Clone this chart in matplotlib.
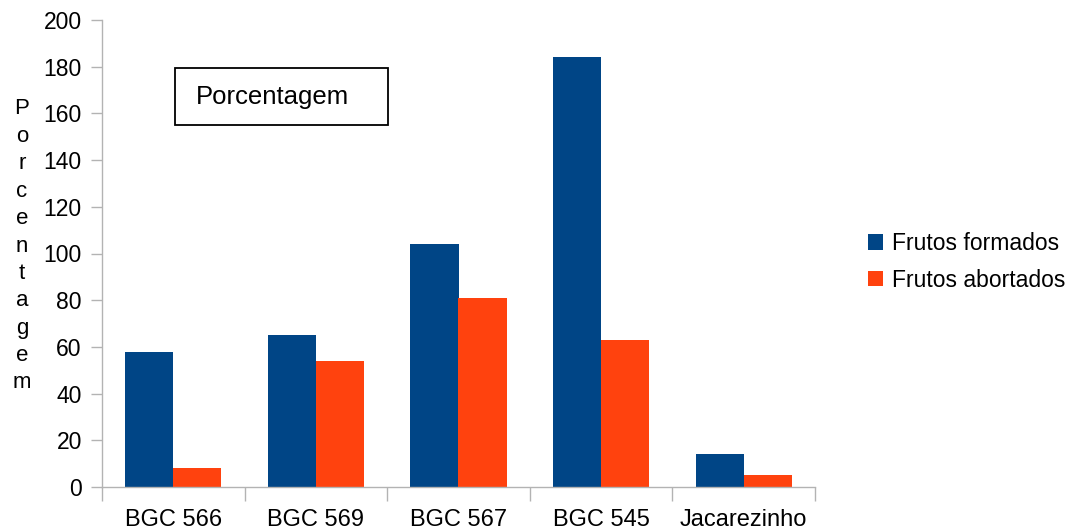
import matplotlib
matplotlib.use("Agg")
import matplotlib.pyplot as plt
from matplotlib.patches import Rectangle
import numpy as np

categories = ["BGC 566", "BGC 569", "BGC 567", "BGC 545", "Jacarezinho"]
frutos_formados = [58, 65, 104, 184, 14]
frutos_abortados = [8, 54, 81, 63, 5]
series_names = ["Frutos formados", "Frutos abortados"]
y_ticks = [0, 20, 40, 60, 80, 100, 120, 140, 160, 180, 200]

plt.rcParams["font.family"] = ["Liberation Sans", "DejaVu Sans"]

W, H = 1074, 530
fig = plt.figure(figsize=(W / 100, H / 100), dpi=100)
ax = fig.add_axes([102 / W, 1 - 487 / H, 713 / W, 467 / H])

x = np.arange(len(categories))
w = 0.337
b1 = ax.bar(x - w / 2, frutos_formados, w, color="#004586", label=series_names[0])
b2 = ax.bar(x + w / 2, frutos_abortados, w, color="#ff420e", label=series_names[1])

ax.set_xlim(-0.5, len(categories) - 0.5)
ax.set_ylim(0, 200)
ax.set_yticks(y_ticks)
ax.tick_params(axis="y", labelsize=16.5, length=8, width=1, color="#b3b3b3", pad=6.5)
ax.set_xticks(x)
ax.set_xticklabels(categories)
ax.tick_params(axis="x", labelsize=17, length=0, pad=16)
# ticks on the category boundaries
ax.set_xticks(np.arange(len(categories) + 1) - 0.5, minor=True)
ax.tick_params(axis="x", which="minor", length=10, width=1, color="#b3b3b3")

for side in ["top", "right"]:
    ax.spines[side].set_visible(False)
for side in ["left", "bottom"]:
    ax.spines[side].set_color("#b3b3b3")
    ax.spines[side].set_linewidth(1)

# vertical stacked axis title
fig.text(22 / W, 1 - 246 / H, "\n".join("Porcentagem"), ha="center", va="center",
         fontsize=16, linespacing=1.4)

# boxed caption
fig.patches.append(Rectangle((175 / W, 1 - 125 / H), 213 / W, 57 / H,
                             transform=fig.transFigure, fc="white", ec="black", lw=1.3))
fig.text(196 / W, 1 - 97 / H, "Porcentagem", ha="left", va="center", fontsize=18.5)

leg = fig.legend(handles=[b1, b2], labels=series_names, loc="center left",
                 bbox_to_anchor=(868 / W, 1 - 262 / H), frameon=False, fontsize=16.5,
                 borderaxespad=0, borderpad=0,
                 handlelength=0.65, handleheight=0.65, handletextpad=0.4, labelspacing=0.6)

fig.savefig("out.png", dpi=100)
